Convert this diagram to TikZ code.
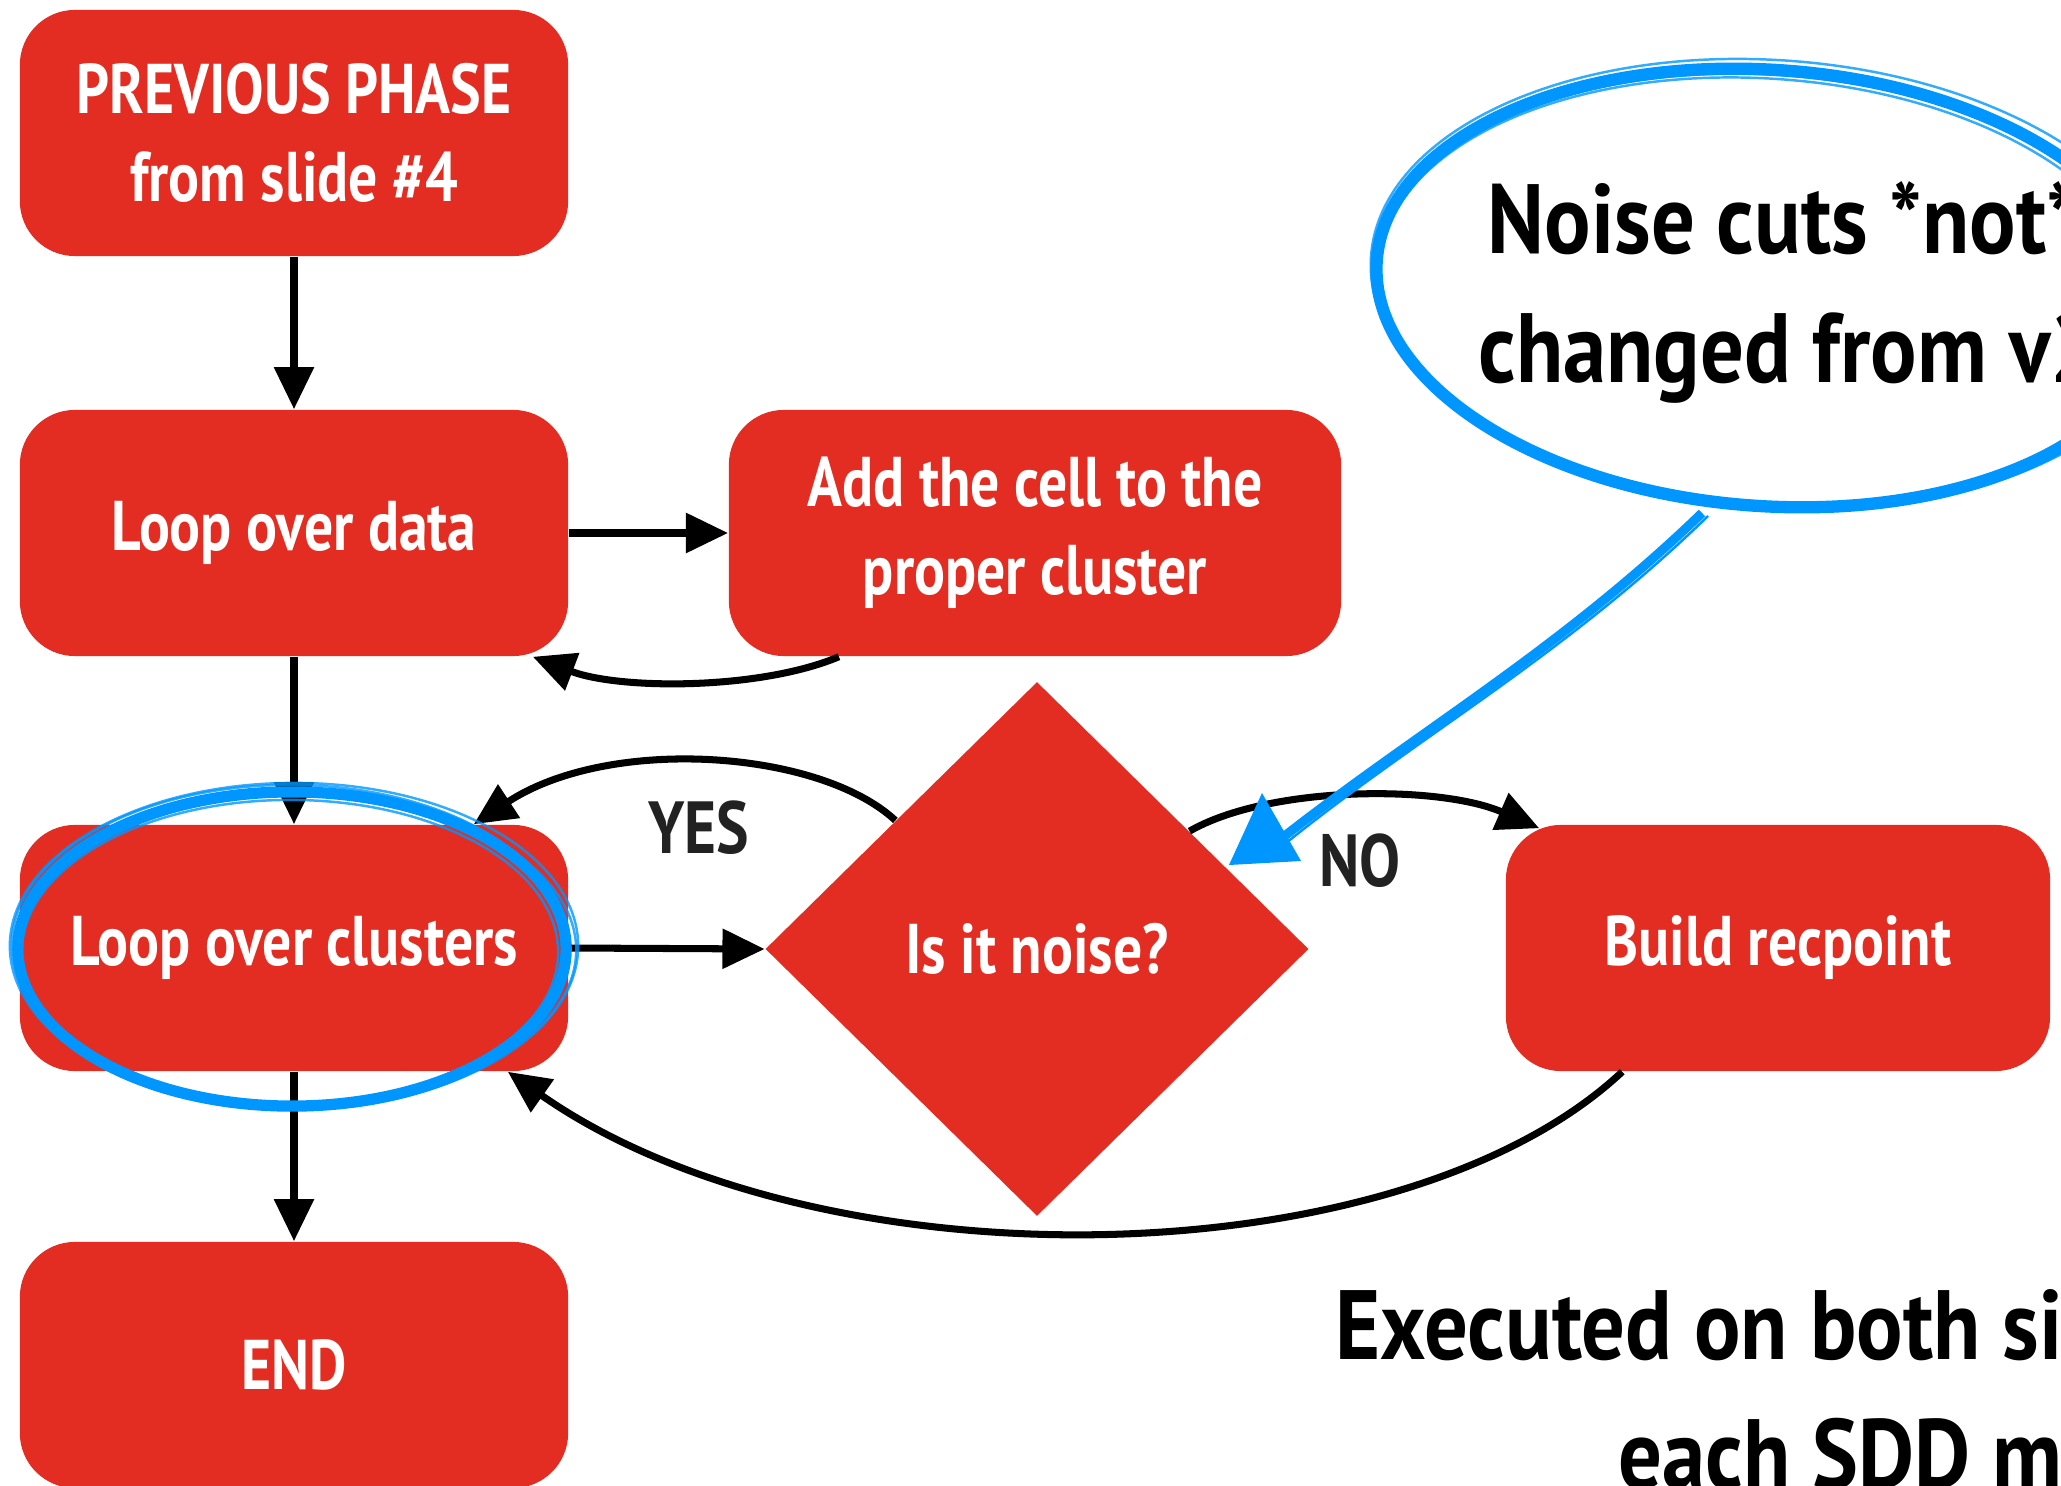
\documentclass[tikz,border=0pt]{standalone}
\usepackage{fontspec}
\newfontfamily\condbox{PT Sans}[FakeStretch=0.82]
\newfontfamily\condbig{PT Sans}[FakeStretch=0.88]
\newfontfamily\condlab{PT Sans}[FakeStretch=0.83]
\usetikzlibrary{shapes.geometric,arrows.meta,calc}
\definecolor{boxred}{RGB}{227,45,34}
\definecolor{sketchblue}{RGB}{0,150,255}
\definecolor{lbl}{RGB}{34,34,34}
\begin{document}
\begin{tikzpicture}[x=0.01cm,y=-0.01cm,
  box/.style={fill=boxred, rounded corners=0.55cm, minimum width=5.48cm, minimum height=2.46cm,
    text=white, font=\condbox\bfseries\fontsize{20}{25}\selectfont, align=center, inner sep=0pt},
  decision/.style={diamond, fill=boxred, minimum width=5.43cm, minimum height=5.34cm, inner sep=0pt,
    text=white, font=\condbox\bfseries\fontsize{20}{25}\selectfont},
  flow/.style={line width=2pt, -{Triangle[length=12pt,width=11pt]}},
  lab/.style={text=lbl, font=\condlab\bfseries\fontsize{21}{25}\selectfont, inner sep=0pt},
  big/.style={text=black, font=\condbig\bfseries\fontsize{28}{32}\selectfont, inner sep=0pt},
  sketch/.style={draw=sketchblue, line width=3.2pt},
  sketchthin/.style={draw=sketchblue, line width=0.7pt, opacity=0.8}]
\useasboundingbox (0,0) rectangle (2061,1486);
\clip (0,0) rectangle (2061,1486);
\fill[white] (0,0) rectangle (2061,1486);

% boxes
\node[box] (prev) at (294,133) {PREVIOUS PHASE\\from slide \#4};
\node[box] (data) at (294,533) {Loop over data};
\node[box, minimum width=6.12cm] (add) at (1035,533) {Add the cell to the\\proper cluster};
\node[box] (clus) at (294,948) {Loop over clusters};
\node[decision] (dec) at (1037,949) {Is it noise?};
\node[box, minimum width=5.44cm] (build) at (1778,948) {Build recpoint};
\node[box] (endn) at (294,1365) {END};

% connectors
\draw[flow] (prev.south) -- (data.north);
\draw[flow] (data.east) -- (add.west);
\draw[flow] ([xshift=-1.96cm]add.south) .. controls (760,690) and (620,690) .. ([xshift=-0.36cm]data.south east);
\draw[flow] (data.south) -- (clus.north);
\draw[flow] (clus.east) -- (dec.west);
\draw[flow] ($(dec.west)!0.48!(dec.north)$) .. controls (820,750) and (610,735) .. ([xshift=-0.95cm]clus.north east);
\draw[flow] ($(dec.north)!0.56!(dec.east)$) .. controls (1270,785) and (1440,785) .. ([xshift=0.34cm,yshift=-0.04cm]build.north west);
\draw[flow] ([xshift=1.17cm]build.south west) .. controls (1400,1280) and (820,1290) .. ([xshift=-0.61cm]clus.south east);
\draw[flow] (clus.south) -- (endn.north);

% labels
\node[lab] (yes) at (699,828) {YES};
\node[lab] (no) at (1360,861) {NO};

% big texts
\node[big, anchor=base west] (t1) at (1487,254) {Noise cuts *not*};
\node[big, anchor=base west] (t2) at (1478,383) {changed from v2};
\node[big, anchor=base west] (t3) at (1335,1359) {Executed on both sides of};
\node[big, anchor=base west] (t4) at (1618,1488) {each SDD module};

% blue sketch around Loop over clusters
\draw[sketch] (292,949) ellipse [x radius=2.74cm, y radius=1.57cm];
\draw[sketchthin] (294,946) ellipse [x radius=2.84cm, y radius=1.63cm];
\draw[sketchthin] (290,952) ellipse [x radius=2.68cm, y radius=1.52cm];
\draw[sketchthin] (296,950) ellipse [x radius=2.80cm, y radius=1.55cm];
\draw[sketchthin] (289,945) ellipse [x radius=2.77cm, y radius=1.60cm];

% blue callout ellipse
\begin{scope}[shift={(1768,288)}, rotate=-4]
\draw[sketch, line width=3.5pt] (0,0) ellipse [x radius=3.92cm, y radius=2.18cm];
\draw[sketchthin] (4,-4) ellipse [x radius=4.02cm, y radius=2.24cm];
\draw[sketchthin] (-3,3) ellipse [x radius=3.86cm, y radius=2.12cm];
\draw[sketchthin] (2,2) ellipse [x radius=3.97cm, y radius=2.15cm];
\end{scope}

% blue arrow
\coordinate (bs) at (1702,513);
\coordinate (be) at (1282,838);
\draw[sketchblue, line width=2.6pt] (bs) .. controls (1560,650) and (1420,730) .. (be);
\draw[sketchblue, line width=0.7pt] (1708,516) .. controls (1565,655) and (1420,735) .. (1286,843);
\fill[sketchblue] (1262,793) -- (1229,865) -- (1301,861) -- cycle;
\end{tikzpicture}
\end{document}
